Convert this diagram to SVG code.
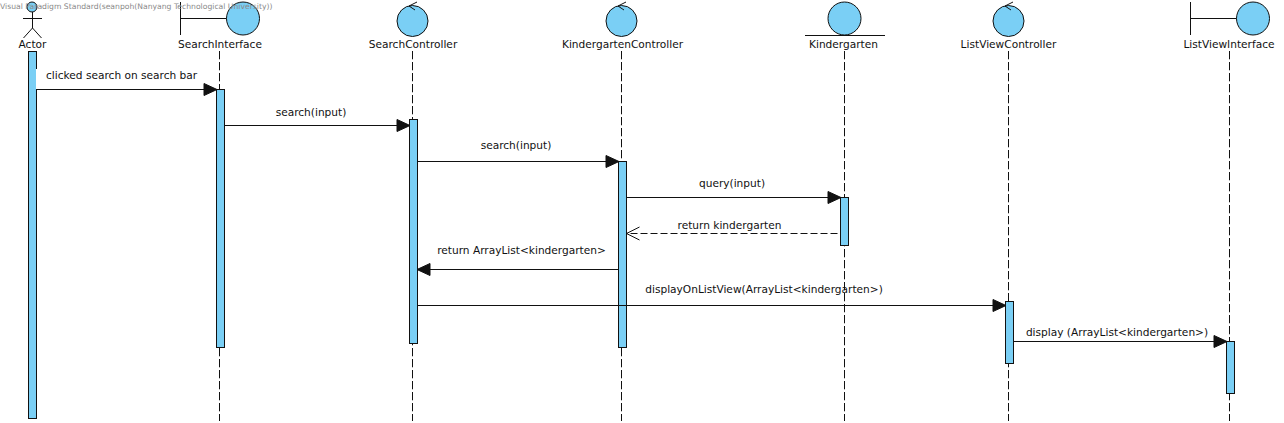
<svg xmlns="http://www.w3.org/2000/svg" width="1284" height="423" viewBox="0 0 1284 423">
<style>
text{font-family:"DejaVu Sans","Liberation Sans",sans-serif;font-size:10.6px;fill:#111}
.c{text-anchor:middle}
.wm{font-size:7.66px;fill:#8a8a8a}
.o{fill:#7ACFF5;stroke:#111;stroke-width:1}
.s{fill:none;stroke:#111;stroke-width:1}
.ll{fill:none;stroke:#111;stroke-width:1;stroke-dasharray:8.300 2.700}
.m{fill:none;stroke:#111;stroke-width:1}
.r{fill:none;stroke:#111;stroke-width:1;stroke-dasharray:7 3;stroke-dashoffset:7}
</style>
<defs>
<marker id="f" markerUnits="userSpaceOnUse" markerWidth="16" markerHeight="16" refX="14" refY="8" orient="auto"><path d="M1 2L14 8L1 14Z" fill="#111" stroke="#111"/></marker>
<marker id="o" markerUnits="userSpaceOnUse" markerWidth="16" markerHeight="16" refX="14" refY="8" orient="auto"><path d="M1 1.500L14 8L1 14.500" fill="none" stroke="#111"/></marker>
</defs>
<rect width="1284" height="423" fill="#fff"/>
<g id="lifelines">
<path class="ll" d="M219.500 51V421"/>
<path class="ll" d="M412.500 51V421"/>
<path class="ll" d="M621.500 51V421"/>
<path class="ll" d="M844.500 51V421"/>
<path class="ll" d="M1008.500 51V421"/>
<path class="ll" d="M1229.500 51V421"/>
</g>
<g id="actor">
<circle class="o" cx="32" cy="7" r="5"/>
<path class="s" d="M32.500 12V28M23 18.500H42M32.500 28L23.500 38M32.500 28L41.500 38"/>
<text class="c" x="32.500" y="48">Actor</text>
<rect class="o" x="28.500" y="51.500" width="8" height="367"/>
<rect x="36" y="69" width="1.500" height="20" fill="#fff"/>
</g>
<g id="searchInterface">
<path class="s" d="M180.500 2V35M180.500 18.500H227"/>
<circle class="o" cx="243" cy="18.500" r="16.500"/>
<text class="c" x="220" y="48">SearchInterface</text>
<rect class="o" x="216.500" y="89.500" width="8" height="258"/>
</g>
<g id="searchController">
<circle class="o" cx="412.500" cy="21" r="15.500"/>
<path class="s" d="M417 2L409 6L415 10"/>
<text class="c" x="413" y="48">SearchController</text>
<rect class="o" x="409.500" y="119.500" width="8" height="224"/>
</g>
<g id="kindergartenController">
<circle class="o" cx="621.500" cy="21" r="15.500"/>
<path class="s" d="M626 2L618 6L624 10"/>
<text class="c" x="622.500" y="48">KindergartenController</text>
<rect class="o" x="618.500" y="161.500" width="8" height="186"/>
</g>
<g id="kindergarten">
<circle class="o" cx="844.500" cy="18.500" r="16.500"/>
<path class="s" d="M805 35.500H885"/>
<text class="c" x="843.500" y="48">Kindergarten</text>
<rect class="o" x="840.500" y="197.500" width="8" height="48"/>
</g>
<g id="listViewController">
<circle class="o" cx="1008.500" cy="21" r="15.500"/>
<path class="s" d="M1013 2L1005 6L1011 10"/>
<text class="c" x="1008.500" y="48">ListViewController</text>
<rect class="o" x="1005.500" y="301.500" width="8" height="62"/>
</g>
<g id="listViewInterface">
<path class="s" d="M1190.500 2V35M1190.500 18.500H1237"/>
<circle class="o" cx="1253" cy="18.500" r="16.500"/>
<text class="c" x="1229" y="48">ListViewInterface</text>
<rect class="o" x="1226.500" y="341.500" width="8" height="52"/>
</g>
<g id="connectors">
<path class="m" d="M36.500 89.500H217" marker-end="url(#f)"/>
<path class="m" d="M224.500 125.500H410" marker-end="url(#f)"/>
<path class="m" d="M417.500 161.500H619" marker-end="url(#f)"/>
<path class="m" d="M626.500 197.500H841" marker-end="url(#f)"/>
<path class="r" d="M840.500 233.500H626.500" marker-end="url(#o)"/>
<path class="m" d="M618.500 269.500H417" marker-end="url(#f)"/>
<path class="m" d="M417.500 305.500H1006" marker-end="url(#f)"/>
<path class="m" d="M1013.500 341.500H1227" marker-end="url(#f)"/>
</g>
<g id="labels">
<text x="46" y="79">clicked search on search bar</text>
<text class="c" x="311" y="116">search(input)</text>
<text class="c" x="516" y="149">search(input)</text>
<text class="c" x="732" y="187">query(input)</text>
<text class="c" x="729.500" y="229">return kindergarten</text>
<text class="c" x="521.500" y="254">return ArrayList&lt;kindergarten&gt;</text>
<text class="c" x="764" y="293">displayOnListView(ArrayList&lt;kindergarten&gt;)</text>
<text class="c" x="1117" y="336">display (ArrayList&lt;kindergarten&gt;)</text>
</g>
<text class="wm" x="0" y="9">Visual Paradigm Standard(seanpoh(Nanyang Technological University))</text>
</svg>
